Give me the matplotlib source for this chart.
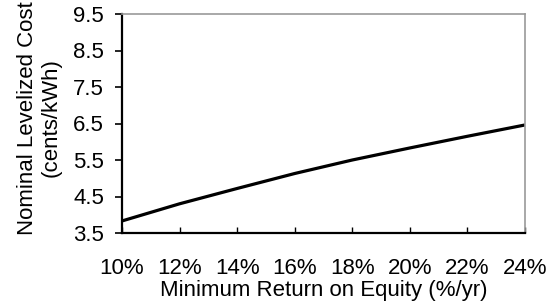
import matplotlib
matplotlib.use("Agg")
import matplotlib.pyplot as plt

plt.rcParams['font.family'] = ['Liberation Sans', 'DejaVu Sans']

roe_pct = [10, 12, 14, 16, 18, 20, 22, 24]
cost = [3.83, 4.30, 4.72, 5.13, 5.50, 5.83, 6.15, 6.46]
x_ticks = [10, 12, 14, 16, 18, 20, 22, 24]
x_labels = ["10%", "12%", "14%", "16%", "18%", "20%", "22%", "24%"]
y_ticks = [3.5, 4.5, 5.5, 6.5, 7.5, 8.5, 9.5]
y_labels = ["3.5", "4.5", "5.5", "6.5", "7.5", "8.5", "9.5"]

fig = plt.figure(figsize=(5.57, 3.08), dpi=100)
ax = fig.add_axes([122/557, 1 - 233/308, (525-122)/557, (233-14)/308])

ax.plot(roe_pct, cost, color='black', lw=2.3, solid_capstyle='butt')
ax.set_xlim(10, 24)
ax.set_ylim(3.5, 9.5)
ax.set_xticks(x_ticks)
ax.set_xticklabels(x_labels)
ax.set_yticks(y_ticks)
ax.set_yticklabels(y_labels)

for s in ['left', 'bottom']:
    ax.spines[s].set_color('black')
    ax.spines[s].set_linewidth(1.6)
for s in ['top', 'right']:
    ax.spines[s].set_color('#999999')
    ax.spines[s].set_linewidth(1.2)

ax.tick_params(axis='x', direction='in', length=4.5, width=1, pad=18, labelsize=16)
ax.tick_params(axis='y', direction='out', length=5, width=1.2, pad=8, labelsize=16)

ax.set_xlabel("Minimum Return on Equity (%/yr)", fontsize=16, labelpad=1)
ax.set_ylabel("Nominal Levelized Cost\n(cents/kWh)", fontsize=16, labelpad=8, linespacing=1.2)
ax.yaxis.label.set_y(0.525)

fig.savefig("out.png", dpi=100)
